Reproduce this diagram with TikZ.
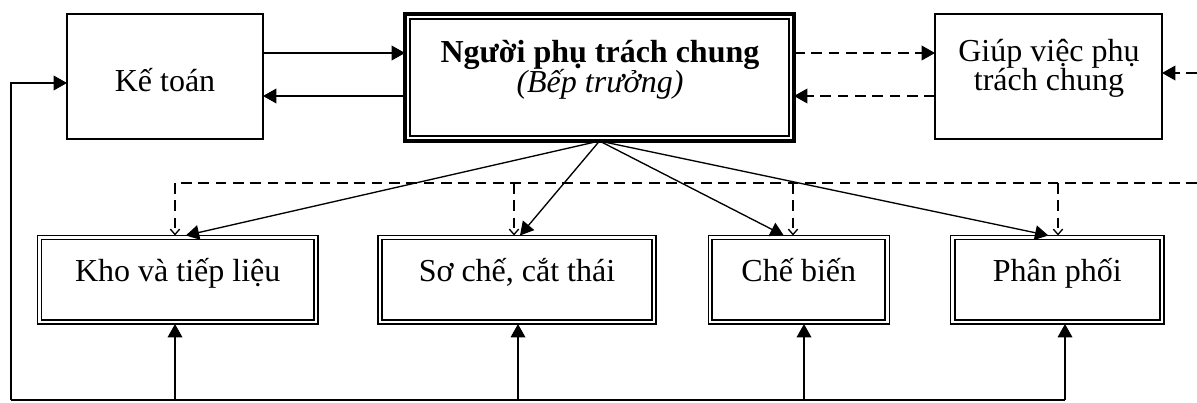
\documentclass[tikz,border=0pt]{standalone}
\usepackage{fontspec}
\setmainfont{Liberation Serif}
\usetikzlibrary{arrows.meta,calc}
\begin{document}
\begin{tikzpicture}[x=0.75pt,y=-0.75pt,
  txt/.style={font=\fontsize{24}{28}\selectfont, inner sep=0pt, anchor=base},
  plainbox/.style={draw, line width=1pt, outer sep=0pt, inner sep=0pt},
  mainbox/.style={draw, line width=3pt, outer sep=0pt, inner sep=0pt},
  subbox/.style={draw, line width=0.8pt, outer sep=0pt, inner sep=0pt, minimum height=66.4pt},
  tri/.tip={Triangle[length=10pt,width=11pt]},
  arr/.style={line width=1pt, -tri},
  dsh/.style={line width=1pt, dash pattern=on 8pt off 5pt},
  darr/.style={dsh, -tri},
  barb/.style={dsh, -{Straight Barb[length=4pt,width=7pt]}},
  ln/.style={line width=1pt}]
\useasboundingbox (0,0) rectangle (1197,403);

% boxes
\node[plainbox, minimum width=147pt, minimum height=93.75pt] (ketoan) at (165,76.5) {};
\node[mainbox, minimum width=291.75pt, minimum height=95.25pt] (main) at (599.5,77.5) {};
\draw[line width=0.9pt] ($(main.south west)+(5,-5)$) rectangle ($(main.north east)+(-5,5)$);
\node[plainbox, minimum width=170.25pt, minimum height=93.75pt] (giup) at (1048.5,76.5) {};

\node[subbox, minimum width=210.4pt] (kho) at (177.75,279.75) {};
\node[subbox, minimum width=208.5pt] (soche) at (517,279.75) {};
\node[subbox, minimum width=135.75pt] (chebien) at (798.8,279.75) {};
\node[subbox, minimum width=160pt] (phanphoi) at (1057.35,279.75) {};
\foreach \n in {kho,soche,chebien,phanphoi}
  \draw[line width=1.3pt] ($(\n.south west)+(4,-4)$) rectangle ($(\n.north east)+(-4,4)$);

% texts
\node[txt] (tketoan) at (165,91.7) {Kế toán};
\node[txt] (tmain1) at (600,63) {\bfseries Người phụ trách chung};
\node[txt] (tmain2) at (600,93) {\itshape (Bếp trưởng)};
\node[txt] (tgiup1) at (1049,62) {Giúp việc phụ};
\node[txt] (tgiup2) at (1049,91) {trách chung};
\node[txt] (tkho) at (177.75,281) {Kho và tiếp liệu};
\node[txt] (tsoche) at (517,281) {Sơ chế, cắt thái};
\node[txt] (tchebien) at (798.8,281) {Chế biến};
\node[txt] (tphanphoi) at (1057.35,281) {Phân phối};

% top connectors
\coordinate (k1) at ($(ketoan.east)+(0,-23.5)$);
\coordinate (k2) at ($(ketoan.east)+(0,19.5)$);
\draw[arr] (k1) -- (k1 -| main.west);
\draw[arr] (k2 -| main.west) -- (k2);
\coordinate (g1) at ($(giup.west)+(0,-23.5)$);
\coordinate (g2) at ($(giup.west)+(0,19.5)$);
\draw[darr] (g1 -| main.east) -- (g1);
\draw[darr] (g2) -- (g2 -| main.east);
\coordinate (rin) at (1197,73);
\draw[darr] (rin) -- (rin -| giup.east);

% dashed bus
\coordinate (busR) at (1197,183);
\coordinate (d1) at (175,183);
\coordinate (d2) at (514,183);
\coordinate (d3) at (793,183);
\coordinate (d4) at (1058,183);
\draw[dsh] (busR) -- (d1);
\foreach \c/\n in {d1/kho,d2/soche,d3/chebien,d4/phanphoi}
  \draw[barb] (\c) -- (\c |- \n.north);

% fan
\draw[arr] (main.south) -- ($(kho.north)+(8,0)$);
\draw[arr] (main.south) -- ($(soche.north)+(3,0)$);
\draw[arr] (main.south) -- ($(chebien.north)+(-15,0)$);
\draw[arr] (main.south) -- ($(phanphoi.north)+(-9,0)$);

% bottom loop
\coordinate (bl) at (11,400);
\coordinate (b1) at (175,400);
\coordinate (b2) at (518,400);
\coordinate (b3) at (804,400);
\coordinate (b4) at (1065,400);
\draw[ln] (b4) -- (bl);
\draw[arr] (bl) |- ($(ketoan.west)+(0,6.5)$);
\foreach \c/\n in {b1/kho,b2/soche,b3/chebien,b4/phanphoi}
  \draw[arr] (\c) -- (\c |- \n.south);
\end{tikzpicture}
\end{document}
